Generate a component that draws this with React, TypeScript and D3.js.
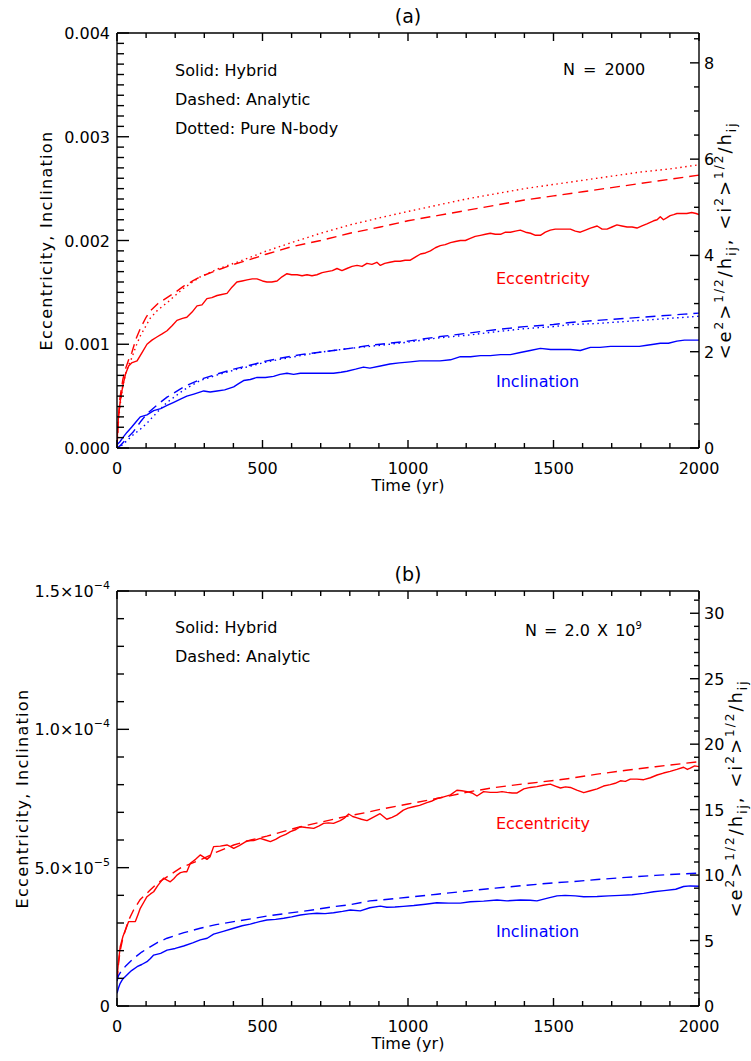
import React from "react";
import * as d3 from "d3";

type Pt = [number, number];

// ---------- shared axis data ----------
const timeTicks = [0, 500, 1000, 1500, 2000];
const timeMinorStep = 100;
const timeMax = 2000;

// ---------- panel (a): N = 2000 ----------
const aLeftTicks = [0, 0.001, 0.002, 0.003, 0.004];
const aLeftLabels = ["0.000", "0.001", "0.002", "0.003", "0.004"];
const aLeftMax = 0.004;
const aLeftMinor = 0.0001;
const aRightTicks = [0, 2, 4, 6, 8];
const aRightMax = 8.62;
const aRightMinor = 0.5;

const aEccHybrid: Pt[] = [
  [0, 0.00005], [5, 0.0003], [11, 0.00045], [20, 0.0006], [29, 0.00071], [40, 0.00079], [50, 0.00082],
  [69, 0.00084], [86, 0.00092], [103, 0.001], [120, 0.00104], [137, 0.00107], [155, 0.0011], [172, 0.00113],
  [190, 0.00118], [206, 0.00123], [225, 0.00125], [240, 0.00126], [258, 0.00131], [275, 0.00137], [292, 0.00138],
  [309, 0.00144], [326, 0.00145], [344, 0.00147], [360, 0.00148], [378, 0.00149], [395, 0.00155], [412, 0.0016],
  [430, 0.00161], [447, 0.00162], [465, 0.00163], [481, 0.00163], [500, 0.00161], [515, 0.0016], [532, 0.0016],
  [550, 0.00161], [567, 0.00165], [584, 0.00168], [600, 0.00167], [619, 0.00167], [636, 0.00166], [653, 0.00167],
  [670, 0.00166], [687, 0.00167], [705, 0.00169], [722, 0.0017], [740, 0.00171], [756, 0.00173], [773, 0.00171],
  [790, 0.00173], [808, 0.00175], [825, 0.00176], [842, 0.00175], [859, 0.00178], [876, 0.00177], [893, 0.00179],
  [905, 0.00176], [920, 0.00178], [938, 0.00179], [955, 0.0018], [973, 0.0018], [990, 0.00181], [1008, 0.00181],
  [1025, 0.00184], [1043, 0.00187], [1060, 0.00188], [1077, 0.0019], [1094, 0.00193], [1111, 0.00195],
  [1128, 0.00196], [1146, 0.00198], [1163, 0.00199], [1180, 0.002], [1197, 0.002], [1214, 0.00202],
  [1231, 0.00204], [1249, 0.00205], [1266, 0.00206], [1283, 0.00207], [1300, 0.00206], [1318, 0.00206],
  [1335, 0.00208], [1352, 0.00208], [1369, 0.00209], [1386, 0.0021], [1404, 0.00208], [1421, 0.00207],
  [1438, 0.00205], [1455, 0.00205], [1472, 0.00208], [1489, 0.0021], [1506, 0.00211], [1524, 0.00211],
  [1541, 0.00211], [1558, 0.00211], [1575, 0.00209], [1592, 0.00208], [1610, 0.0021], [1627, 0.00212],
  [1650, 0.00214], [1667, 0.00211], [1684, 0.00211], [1701, 0.00213], [1718, 0.00215], [1735, 0.00214],
  [1753, 0.00213], [1770, 0.00213], [1787, 0.00212], [1804, 0.00214], [1821, 0.00216], [1844, 0.00219],
  [1856, 0.0022], [1867, 0.00223], [1878, 0.0022], [1890, 0.00222], [1901, 0.00224], [1913, 0.00225],
  [1924, 0.00226], [1941, 0.00226], [1958, 0.00226], [1975, 0.00227], [1990, 0.00226], [2000, 0.00225],
];

const aEccAnalytic: Pt[] = [
  [0, 0], [5, 0.0003], [10, 0.00048], [20, 0.00066], [30, 0.00077], [40, 0.00085], [51, 0.00092], [65, 0.00105],
  [80, 0.00115], [100, 0.00126], [114, 0.00132], [140, 0.00139], [172, 0.00145], [200, 0.0015], [229, 0.00156],
  [260, 0.00161], [286, 0.00165], [350, 0.00172], [401, 0.00177], [450, 0.00181], [515, 0.00187], [600, 0.00194],
  [700, 0.002], [800, 0.00207], [905, 0.00213], [1000, 0.00219], [1100, 0.00224], [1200, 0.00229], [1300, 0.00234],
  [1400, 0.00239], [1500, 0.00243], [1600, 0.00247], [1700, 0.00251], [1800, 0.00255], [1900, 0.00259],
  [2000, 0.00263],
];

const aEccNbody: Pt[] = [
  [0, 0], [5, 0.00025], [10, 0.0004], [20, 0.0006], [30, 0.00072], [40, 0.0008], [51, 0.00087], [65, 0.00098],
  [80, 0.00108], [100, 0.00118], [114, 0.00125], [140, 0.00133], [172, 0.0014], [200, 0.00147], [229, 0.00154],
  [260, 0.0016], [286, 0.00165], [350, 0.00173], [401, 0.00178], [450, 0.00183], [515, 0.0019], [600, 0.00198],
  [700, 0.00207], [800, 0.00215], [905, 0.00222], [1000, 0.00228], [1100, 0.00234], [1200, 0.0024], [1300, 0.00245],
  [1400, 0.0025], [1500, 0.00254], [1600, 0.00258], [1700, 0.00262], [1800, 0.00266], [1900, 0.00269],
  [2000, 0.00273],
];

const aIncHybrid: Pt[] = [
  [0, 0.00003], [10, 0.00006], [20, 0.0001], [34, 0.00015], [50, 0.0002], [65, 0.00025], [80, 0.0003],
  [103, 0.00032], [126, 0.00036], [150, 0.00038], [172, 0.00041], [195, 0.00044], [218, 0.00047], [240, 0.0005],
  [264, 0.00052], [298, 0.00055], [320, 0.00054], [344, 0.00055], [370, 0.00056], [401, 0.00059], [418, 0.00062],
  [435, 0.00065], [458, 0.00066], [481, 0.00068], [510, 0.00068], [538, 0.00069], [560, 0.00071], [584, 0.00072],
  [607, 0.00071], [630, 0.00072], [660, 0.00072], [687, 0.00072], [715, 0.00072], [744, 0.00072], [770, 0.00073],
  [790, 0.00074], [820, 0.00076], [847, 0.00078], [869, 0.00077], [905, 0.00079], [938, 0.00081], [970, 0.00082],
  [1008, 0.00083], [1040, 0.00084], [1077, 0.00084], [1110, 0.00084], [1146, 0.00085], [1180, 0.00088],
  [1215, 0.00088], [1249, 0.00089], [1283, 0.00089], [1318, 0.0009], [1352, 0.0009], [1386, 0.00092],
  [1420, 0.00094], [1455, 0.00096], [1490, 0.00095], [1524, 0.00095], [1558, 0.00095], [1592, 0.00094],
  [1627, 0.00097], [1660, 0.00097], [1696, 0.00098], [1730, 0.00098], [1764, 0.00098], [1795, 0.00098],
  [1821, 0.00099], [1845, 0.001], [1867, 0.00101], [1895, 0.00101], [1924, 0.00103], [1950, 0.00104],
  [1975, 0.00104], [2000, 0.00104],
];

const aIncAnalytic: Pt[] = [
  [0, 0], [10, 0.00002], [30, 0.00008], [57, 0.00016], [80, 0.00025], [103, 0.00033], [140, 0.00042],
  [172, 0.00049], [230, 0.00059], [286, 0.00066], [340, 0.00071], [401, 0.00076], [460, 0.0008], [515, 0.00084],
  [570, 0.00087], [630, 0.0009], [690, 0.00092], [744, 0.00094], [800, 0.00096], [869, 0.00099], [905, 0.001],
  [1000, 0.00103], [1100, 0.00107], [1214, 0.00111], [1300, 0.00114], [1400, 0.00117], [1500, 0.00119],
  [1558, 0.00121], [1650, 0.00123], [1750, 0.00125], [1850, 0.00127], [1950, 0.00129], [2000, 0.0013],
];

const aIncNbody: Pt[] = [
  [0, 0], [10, 0.00001], [34, 0.00007], [57, 0.00013], [80, 0.00018], [103, 0.00024], [140, 0.00035],
  [172, 0.00044], [230, 0.00056], [286, 0.00065], [340, 0.0007], [401, 0.00075], [460, 0.00079], [515, 0.00083],
  [570, 0.00086], [630, 0.00089], [690, 0.00092], [744, 0.00094], [800, 0.00096], [869, 0.00098], [905, 0.00099],
  [1000, 0.00102], [1100, 0.00106], [1214, 0.00109], [1300, 0.00112], [1400, 0.00115], [1500, 0.00117],
  [1558, 0.00119], [1650, 0.0012], [1750, 0.00122], [1850, 0.00124], [1950, 0.00126], [2000, 0.00127],
];

// ---------- panel (b): N = 2.0 x 10^9 (values in units of 1e-5) ----------
const bLeftTicks = [0, 5, 10, 15];
const bLeftMant = ["0", "5.0\u00d710", "1.0\u00d710", "1.5\u00d710"];
const bLeftExp = ["", "\u22125", "\u22124", "\u22124"];
const bLeftMax = 15;
const bLeftMinor = 1;
const bRightTicks = [0, 5, 10, 15, 20, 25, 30];
const bRightMax = 31.7;
const bRightMinor = 1;

const bEccHybrid: Pt[] = [
  [0, 1.0], [5, 1.6], [11, 2.14], [20, 2.5], [29, 2.75], [40, 3.05], [52, 3.05], [63, 3.05], [72, 3.3], [80, 3.53],
  [92, 3.75], [103, 3.95], [115, 4.05], [126, 4.13], [140, 4.35], [160, 4.62], [172, 4.55], [183, 4.49], [195, 4.6],
  [206, 4.73], [218, 4.82], [229, 4.85], [240, 4.85], [252, 5.16], [270, 5.3], [286, 5.46], [298, 5.38], [309, 5.3],
  [320, 5.4], [332, 5.76], [355, 5.78], [378, 5.82], [390, 5.76], [401, 5.7], [420, 5.8], [447, 5.97], [470, 5.98],
  [492, 6.06], [510, 6.0], [527, 5.94], [545, 6.02], [561, 6.12], [580, 6.2], [596, 6.3], [615, 6.38], [630, 6.48],
  [650, 6.45], [676, 6.42], [693, 6.5], [710, 6.6], [727, 6.62], [744, 6.6], [767, 6.7], [780, 6.78], [796, 6.94],
  [810, 6.85], [825, 6.8], [840, 6.75], [859, 6.7], [880, 6.82], [904, 6.95], [927, 6.75], [945, 6.82], [961, 6.9],
  [984, 7.08], [1000, 7.15], [1019, 7.2], [1040, 7.25], [1065, 7.35], [1080, 7.4], [1099, 7.5], [1120, 7.55],
  [1146, 7.63], [1168, 7.8], [1185, 7.78], [1203, 7.75], [1220, 7.7], [1237, 7.59], [1260, 7.75], [1283, 7.72],
  [1306, 7.72], [1323, 7.75], [1340, 7.72], [1358, 7.7], [1375, 7.7], [1398, 7.85], [1420, 7.9], [1443, 7.93],
  [1465, 7.98], [1489, 8.02], [1506, 7.95], [1524, 7.88], [1541, 7.92], [1558, 7.9], [1580, 7.8], [1604, 7.71],
  [1627, 7.78], [1650, 7.85], [1672, 7.95], [1695, 8.0], [1712, 8.05], [1730, 8.14], [1747, 8.12], [1764, 8.2],
  [1787, 8.2], [1810, 8.18], [1833, 8.25], [1856, 8.35], [1878, 8.42], [1901, 8.48], [1924, 8.55], [1947, 8.63],
  [1960, 8.55], [1970, 8.6], [1985, 8.68], [2000, 8.65],
];

const bEccAnalytic: Pt[] = [
  [0, 0.9], [5, 1.5], [10, 1.95], [20, 2.45], [29, 2.75], [40, 3.1], [57, 3.47], [80, 3.85], [114, 4.19],
  [140, 4.45], [172, 4.67], [220, 5.0], [286, 5.28], [340, 5.55], [401, 5.82], [460, 6.0], [515, 6.14], [570, 6.3],
  [630, 6.48], [690, 6.62], [744, 6.75], [800, 6.88], [869, 7.02], [905, 7.11], [1000, 7.3], [1100, 7.5],
  [1214, 7.75], [1300, 7.9], [1400, 8.03], [1500, 8.15], [1558, 8.23], [1650, 8.38], [1750, 8.52], [1850, 8.65],
  [1950, 8.77], [2000, 8.83],
];

const bIncHybrid: Pt[] = [
  [0, 0.46], [5, 0.65], [11, 0.82], [20, 0.98], [34, 1.12], [50, 1.28], [69, 1.42], [85, 1.5], [103, 1.6],
  [115, 1.72], [126, 1.84], [150, 1.9], [172, 2.02], [200, 2.08], [229, 2.17], [260, 2.28], [286, 2.39],
  [310, 2.45], [332, 2.6], [365, 2.7], [401, 2.81], [430, 2.9], [458, 2.96], [490, 3.05], [515, 3.11], [545, 3.13],
  [573, 3.17], [600, 3.22], [630, 3.29], [660, 3.33], [687, 3.35], [715, 3.34], [744, 3.37], [775, 3.42],
  [802, 3.47], [836, 3.44], [869, 3.55], [905, 3.61], [927, 3.57], [955, 3.58], [984, 3.6], [1020, 3.63],
  [1060, 3.68], [1099, 3.73], [1140, 3.72], [1180, 3.72], [1214, 3.77], [1260, 3.79], [1306, 3.83], [1340, 3.8],
  [1386, 3.83], [1420, 3.82], [1443, 3.8], [1480, 3.9], [1512, 3.98], [1540, 4.0], [1575, 3.98], [1604, 3.95],
  [1650, 3.96], [1690, 3.98], [1730, 4.0], [1770, 4.02], [1810, 4.07], [1844, 4.13], [1880, 4.17], [1920, 4.22],
  [1947, 4.32], [1970, 4.34], [2000, 4.33],
];

const bIncAnalytic: Pt[] = [
  [0, 0.9], [5, 1.1], [11, 1.2], [30, 1.45], [57, 1.72], [85, 1.95], [114, 2.14], [140, 2.3], [172, 2.45],
  [230, 2.65], [286, 2.81], [340, 2.94], [401, 3.05], [460, 3.15], [515, 3.25], [570, 3.33], [630, 3.41],
  [690, 3.5], [744, 3.59], [800, 3.66], [869, 3.8], [905, 3.83], [1000, 3.93], [1100, 4.04], [1214, 4.17],
  [1300, 4.26], [1400, 4.36], [1500, 4.45], [1558, 4.49], [1650, 4.57], [1750, 4.65], [1850, 4.72], [1950, 4.78],
  [2000, 4.8],
];

// ---------- layout ----------
const W = 751;
const H = 1061;
const LEFT = 117;
const RIGHT = 699;
const FONT = "'DejaVu Sans', sans-serif";
const RED = "#ff0000";
const BLUE = "#0000ff";

type Series = { data: Pt[]; color: string; dash?: string };

type PanelProps = {
  top: number;
  bottom: number;
  title: string;
  yMax: number;
  yTicks: number[];
  yMant: string[];
  yExp?: string[];
  yMinor: number;
  rMax: number;
  rTicks: number[];
  rMinor: number;
  series: Series[];
  legend: string[];
  legendY: number[];
  nLabel: React.ReactNode;
  nX: number;
  nY: number;
  nSpacing: number;
  eccY: number;
  incY: number;
  leftLabelX: number;
  rightLabelX: number;
};

function RightLabel({ x, y }: { x: number; y: number }) {
  const sup = { fontSize: 12 };
  return (
    <text
      transform={`translate(${x},${y}) rotate(-90)`}
      textAnchor="middle"
      fontSize={18}
      fontFamily={FONT}
      letterSpacing={2}
    >
      <tspan>{"<e"}</tspan>
      <tspan dy={-8} style={sup}>2</tspan>
      <tspan dy={8}>{">"}</tspan>
      <tspan dy={-8} style={sup}>1/2</tspan>
      <tspan dy={8}>/h</tspan>
      <tspan dy={5} style={sup}>ij</tspan>
      <tspan dy={-5}>{", <i"}</tspan>
      <tspan dy={-8} style={sup}>2</tspan>
      <tspan dy={8}>{">"}</tspan>
      <tspan dy={-8} style={sup}>1/2</tspan>
      <tspan dy={8}>/h</tspan>
      <tspan dy={5} style={sup}>ij</tspan>
    </text>
  );
}

function Panel(p: PanelProps) {
  const x = d3.scaleLinear().domain([0, timeMax]).range([LEFT, RIGHT]);
  const y = d3.scaleLinear().domain([0, p.yMax]).range([p.bottom, p.top]);
  const yr = d3.scaleLinear().domain([0, p.rMax]).range([p.bottom, p.top]);
  const line = d3
    .line<Pt>()
    .x((d) => x(d[0]))
    .y((d) => y(d[1]));

  const xMinor = d3.range(0, timeMax + 1, timeMinorStep).filter((v) => !timeTicks.includes(v));
  const yMinorT = d3
    .range(0, Math.round(p.yMax / p.yMinor) + 1)
    .map((i) => i * p.yMinor)
    .filter((v) => !p.yTicks.some((t) => Math.abs(t - v) < p.yMinor / 10));
  const rMinorT = d3
    .range(0, Math.floor(p.rMax / p.rMinor + 1e-6) + 1)
    .map((i) => i * p.rMinor)
    .filter((v) => !p.rTicks.some((t) => Math.abs(t - v) < p.rMinor / 10));

  const sw = 1.4;
  const midY = (p.top + p.bottom) / 2;
  return (
    <g fontFamily={FONT} fontSize={16}>
      <defs>
        <clipPath id={`clip-${p.title}`}>
          <rect x={LEFT} y={p.top} width={RIGHT - LEFT} height={p.bottom - p.top} />
        </clipPath>
      </defs>
      {/* series */}
      <g clipPath={`url(#clip-${p.title})`}>
        {p.series.map((s, i) => (
          <path
            key={i}
            d={line(s.data) || ""}
            fill="none"
            stroke={s.color}
            strokeWidth={1.4}
            strokeDasharray={s.dash}
            strokeLinejoin="round"
          />
        ))}
      </g>
      {/* frame */}
      <line x1={LEFT} x2={RIGHT} y1={p.bottom} y2={p.bottom} stroke="#000" strokeWidth={sw} />
      <line x1={LEFT} x2={RIGHT} y1={p.top} y2={p.top} stroke="#000" strokeWidth={sw} />
      <line x1={LEFT} x2={LEFT} y1={p.top} y2={p.bottom} stroke="#000" strokeWidth={sw} />
      <line x1={RIGHT} x2={RIGHT} y1={p.top} y2={p.bottom} stroke="#000" strokeWidth={sw} />
      {/* x ticks */}
      {timeTicks.map((t) => (
        <g key={`xt${t}`}>
          <line x1={x(t)} x2={x(t)} y1={p.bottom} y2={p.bottom - 8} stroke="#000" strokeWidth={sw} />
          <line x1={x(t)} x2={x(t)} y1={p.top} y2={p.top + 8} stroke="#000" strokeWidth={sw} />
          <text x={x(t)} y={p.bottom + 26} textAnchor="middle">
            {String(t)}
          </text>
        </g>
      ))}
      {xMinor.map((t) => (
        <g key={`xm${t}`}>
          <line x1={x(t)} x2={x(t)} y1={p.bottom} y2={p.bottom - 5} stroke="#000" strokeWidth={sw} />
          <line x1={x(t)} x2={x(t)} y1={p.top} y2={p.top + 5} stroke="#000" strokeWidth={sw} />
        </g>
      ))}
      <text x={(LEFT + RIGHT) / 2} y={p.bottom + 43} textAnchor="middle">
        Time (yr)
      </text>
      {/* left ticks */}
      {p.yTicks.map((t, i) => (
        <g key={`yt${i}`}>
          <line x1={LEFT} x2={LEFT + 12} y1={y(t)} y2={y(t)} stroke="#000" strokeWidth={sw} />
          <text x={110} y={y(t) + 6} textAnchor="end">
            <tspan>{p.yMant[i]}</tspan>
            {p.yExp && p.yExp[i] ? (
              <tspan dy={-8} fontSize={11}>
                {p.yExp[i]}
              </tspan>
            ) : null}
          </text>
        </g>
      ))}
      {yMinorT.map((t, i) => (
        <line key={`ym${i}`} x1={LEFT} x2={LEFT + 7} y1={y(t)} y2={y(t)} stroke="#000" strokeWidth={sw} />
      ))}
      {/* right ticks */}
      {p.rTicks.map((t, i) => (
        <g key={`rt${i}`}>
          <line x1={RIGHT} x2={RIGHT - 9} y1={yr(t)} y2={yr(t)} stroke="#000" strokeWidth={sw} />
          <text x={704} y={yr(t) + 6} textAnchor="start">
            {String(t)}
          </text>
        </g>
      ))}
      {rMinorT.map((t, i) => (
        <line key={`rm${i}`} x1={RIGHT} x2={RIGHT - 5} y1={yr(t)} y2={yr(t)} stroke="#000" strokeWidth={sw} />
      ))}
      {/* axis titles */}
      <text
        transform={`translate(${p.leftLabelX},${midY}) rotate(-90)`}
        textAnchor="middle"
        letterSpacing={1.3}
      >
        Eccentricity, Inclination
      </text>
      <RightLabel x={p.rightLabelX} y={midY} />
      <text x={(LEFT + RIGHT) / 2} y={p.top - 10} textAnchor="middle" fontSize={19}>
        {`(${p.title})`}
      </text>
      {/* legends */}
      {p.legend.map((s, i) => (
        <text key={`lg${i}`} x={175} y={p.legendY[i]}>
          {s}
        </text>
      ))}
      <text x={p.nX} y={p.nY} wordSpacing={p.nSpacing}>
        {p.nLabel}
      </text>
      <text x={496} y={p.eccY} fill={RED}>
        Eccentricity
      </text>
      <text x={496} y={p.incY} fill={BLUE}>
        Inclination
      </text>
    </g>
  );
}

export default function App() {
  return (
    <svg
      width={W}
      height={H}
      viewBox={`0 0 ${W} ${H}`}
      style={{ position: "absolute", left: 0, top: 0, background: "#fff" }}
    >
      <rect x={0} y={0} width={W} height={H} fill="#fff" />
      <Panel
        top={33}
        bottom={448}
        title="a"
        yMax={aLeftMax}
        yTicks={aLeftTicks}
        yMant={aLeftLabels}
        yMinor={aLeftMinor}
        rMax={aRightMax}
        rTicks={aRightTicks}
        rMinor={aRightMinor}
        series={[
          { data: aEccNbody, color: RED, dash: "1.5,3.5" },
          { data: aEccAnalytic, color: RED, dash: "10,6" },
          { data: aEccHybrid, color: RED },
          { data: aIncNbody, color: BLUE, dash: "1.5,3.5" },
          { data: aIncAnalytic, color: BLUE, dash: "10,6" },
          { data: aIncHybrid, color: BLUE },
        ]}
        legend={["Solid: Hybrid", "Dashed: Analytic", "Dotted: Pure N-body"]}
        legendY={[76, 105, 134]}
        nLabel={"N = 2000"}
        nX={563}
        nY={75}
        nSpacing={3}
        eccY={284}
        incY={387}
        leftLabelX={52}
        rightLabelX={731}
      />
      <Panel
        top={591}
        bottom={1006}
        title="b"
        yMax={bLeftMax}
        yTicks={bLeftTicks}
        yMant={bLeftMant}
        yExp={bLeftExp}
        yMinor={bLeftMinor}
        rMax={bRightMax}
        rTicks={bRightTicks}
        rMinor={bRightMinor}
        series={[
          { data: bEccAnalytic, color: RED, dash: "10,6" },
          { data: bEccHybrid, color: RED },
          { data: bIncAnalytic, color: BLUE, dash: "10,6" },
          { data: bIncHybrid, color: BLUE },
        ]}
        legend={["Solid: Hybrid", "Dashed: Analytic"]}
        legendY={[633, 662]}
        nLabel={
          <>
            <tspan>N = 2.0 X 10</tspan>
            <tspan dy={-7} fontSize={10}>
              9
            </tspan>
          </>
        }
        nX={525}
        nY={636}
        nSpacing={2}
        eccY={829}
        incY={937}
        leftLabelX={28}
        rightLabelX={742}
      />
    </svg>
  );
}
